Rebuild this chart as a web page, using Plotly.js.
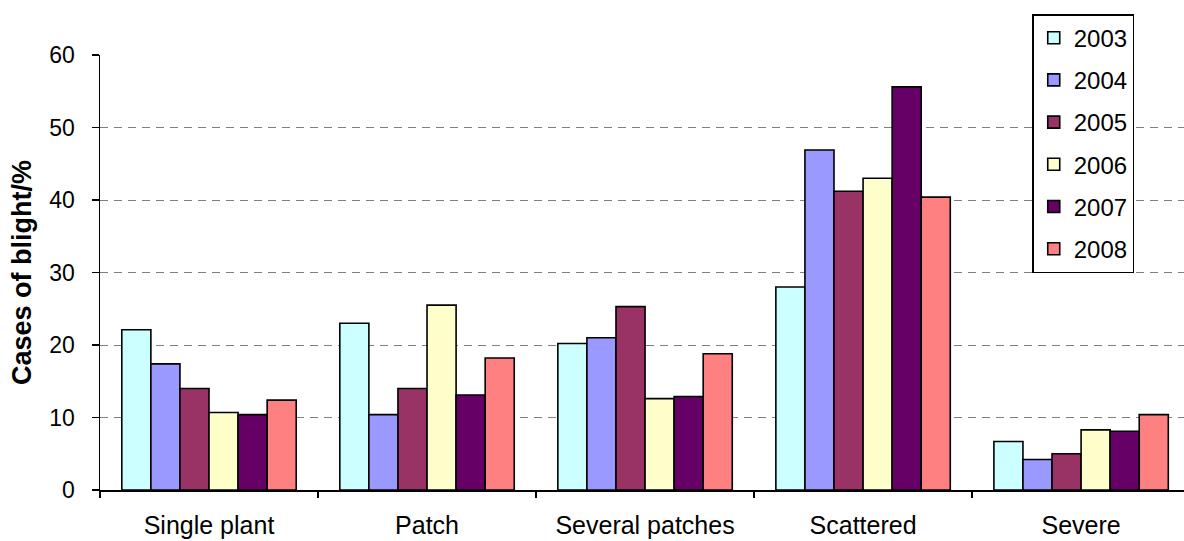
<!DOCTYPE html>
<html>
<head>
<meta charset="utf-8">
<script src="https://cdn.plot.ly/plotly-3.0.1.min.js"></script>
<style>
  html, body { margin: 0; padding: 0; background: #ffffff; }
  #chart { width: 1184px; height: 541px; }
</style>
</head>
<body>
<div id="chart"></div>
<script>
// Blight severity categories
const categories = ['Single plant', 'Patch', 'Several patches', 'Scattered', 'Severe'];

// Share of blight cases (%) per year
const years = ['2003', '2004', '2005', '2006', '2007', '2008'];
const y2003 = [22.1, 23.0, 20.2, 28.0, 6.7];
const y2004 = [17.4, 10.4, 21.0, 46.9, 4.2];
const y2005 = [14.0, 14.0, 25.3, 41.2, 5.0];
const y2006 = [10.7, 25.5, 12.6, 43.0, 8.3];
const y2007 = [10.4, 13.1, 12.9, 55.6, 8.1];
const y2008 = [12.4, 18.2, 18.8, 40.4, 10.4];

const seriesValues = [y2003, y2004, y2005, y2006, y2007, y2008];
const colors = ['#CCFFFF', '#9999FF', '#993366', '#FFFFCC', '#660066', '#FF8080'];

const font = 'Liberation Sans, Arial, sans-serif';

const traces = years.map((yr, i) => ({
  type: 'bar',
  name: yr,
  x: categories,
  y: seriesValues[i],
  legendgroup: 'g' + yr,
  marker: { color: colors[i], line: { color: '#000000', width: 1.6 } },
  hoverinfo: 'x+y+name'
}));

const layout = {
  width: 1184,
  height: 541,
  margin: { l: 100, r: 0, t: 55, b: 51 },
  paper_bgcolor: '#ffffff',
  plot_bgcolor: '#ffffff',
  font: { family: font, size: 24, color: '#000000' },
  barmode: 'group',
  bargap: 0.2,
  bargroupgap: 0,
  showlegend: true,
  legend: {
    x: 0.860, y: 1.094, xanchor: 'left', yanchor: 'top',
    bgcolor: '#ffffff', bordercolor: '#000000', borderwidth: 1.5,
    font: { family: font, size: 24, color: '#000000' },
    traceorder: 'grouped',
    tracegroupgap: 8,
    itemwidth: 30
  },
  xaxis: {
    type: 'category',
    range: [-0.5, 4.472],
    showline: true, linecolor: '#000000', linewidth: 1.5,
    ticks: 'outside', ticklen: 6, tickcolor: '#000000', tickwidth: 1.5,
    tickson: 'boundaries',
    ticklabelstandoff: 12,
    showgrid: false, zeroline: false,
    tickfont: { family: font, size: 25, color: '#000000' },
    fixedrange: true
  },
  yaxis: {
    range: [0, 60],
    dtick: 10,
    showline: true, linecolor: '#000000', linewidth: 1.5,
    ticks: 'outside', ticklen: 7, tickcolor: '#000000', tickwidth: 1.5,
    ticklabelstandoff: 12,
    showgrid: true, gridcolor: '#808080', gridwidth: 1, griddash: '8px,6px',
    zeroline: false,
    tickfont: { family: font, size: 23, color: '#000000' },
    title: { text: '<b>Cases of blight/%</b>', font: { family: font, size: 27, color: '#000000' }, standoff: 10 },
    fixedrange: true
  }
};

Plotly.newPlot('chart', traces, layout, { displayModeBar: false, staticPlot: true });
</script>
</body>
</html>
